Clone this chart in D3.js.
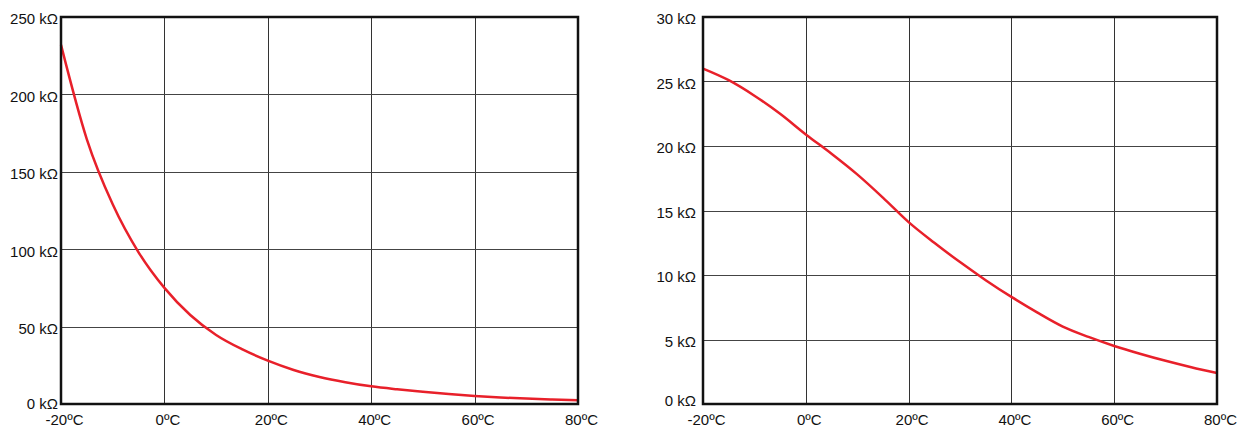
<!DOCTYPE html>
<meta charset="utf-8">
<title>NTC resistance vs temperature</title>
<style>
  body { margin: 0; background: #fff; }
  text { font-family: "Liberation Sans", Arial, sans-serif; font-size: 15px; fill: #111; }
</style>
<body>
<div id="chart"></div>
<script src="https://d3js.org/d3.v7.min.js"></script>
<script>

var temps = [-20, -15, -10, -5, 0, 5, 10, 15, 20, 25, 30, 35, 40, 45, 50, 55, 60, 65, 70, 75, 80];

// left chart: resistance in kΩ
var leftValues = [232, 171, 129, 98, 75, 57.5, 44.6, 35.4, 28, 22, 17.5, 14.1, 11.4, 9.5, 7.9, 6.4, 5.2, 4.2, 3.5, 2.9, 2.4];

// right chart: resistance in kΩ
var rightValues = [26.0, 25.1, 23.9, 22.5, 20.9, 19.4, 17.8, 16.0, 14.1, 12.5, 11.0, 9.6, 8.3, 7.1, 6.0, 5.2, 4.5, 3.9, 3.35, 2.85, 2.4];

// tick labels
var xTicks = [-20, 0, 20, 40, 60, 80];
var leftYTicks = [0, 50, 100, 150, 200, 250];
var rightYTicks = [0, 5, 10, 15, 20, 25, 30];

var svg = d3.select("#chart")
  .append("svg")
    .attr("width", 1248)
    .attr("height", 428);

// one panel per chart
var panels = [
  {values: leftValues, ticks: leftYTicks, max: 250, x0: 61, x1: 578, labelGap: 3, zeroLift: 2.5},
  {values: rightValues, ticks: rightYTicks, max: 30, x0: 703, x1: 1217, labelGap: 7, zeroLift: 5.5}
];

panels.forEach(function(p) {
  var top = 17, bottom = 404;

  var x = d3.scaleLinear()
    .domain([-20, 80])
    .range([p.x0, p.x1]);

  var y = d3.scaleLinear()
    .domain([0, p.max])
    .range([bottom, top]);

  var g = svg.append("g");

  // vertical grid lines
  g.selectAll(".vgrid")
    .data(xTicks.slice(1, -1))
    .enter()
    .append("line")
      .attr("x1", function(d) { return Math.round(x(d)) + 0.5; })
      .attr("x2", function(d) { return Math.round(x(d)) + 0.5; })
      .attr("y1", top)
      .attr("y2", bottom)
      .attr("stroke", "#333")
      .attr("stroke-width", 1);

  // horizontal grid lines
  g.selectAll(".hgrid")
    .data(p.ticks.slice(1, -1))
    .enter()
    .append("line")
      .attr("x1", p.x0)
      .attr("x2", p.x1)
      .attr("y1", function(d) { return Math.round(y(d)) + 0.5; })
      .attr("y2", function(d) { return Math.round(y(d)) + 0.5; })
      .attr("stroke", "#444")
      .attr("stroke-width", 1);

  // the curve
  var line = d3.line()
    .x(function(d, i) { return x(temps[i]); })
    .y(function(d) { return y(d); })
    .curve(d3.curveMonotoneX);

  g.append("path")
    .attr("d", line(p.values))
    .attr("fill", "none")
    .attr("stroke", "#e8202a")
    .attr("stroke-width", 2.5);

  // frame
  g.append("rect")
    .attr("x", p.x0)
    .attr("y", top)
    .attr("width", p.x1 - p.x0)
    .attr("height", bottom - top)
    .attr("fill", "none")
    .attr("stroke", "#111")
    .attr("stroke-width", 2.5);

  // y labels
  g.selectAll(".ylab")
    .data(p.ticks)
    .enter()
    .append("text")
      .attr("x", p.x0 - p.labelGap)
      .attr("y", function(d) { return y(d) + 7.3 - (d === 0 ? p.zeroLift : 0); })
      .attr("text-anchor", "end")
      .text(function(d) { return d + " kΩ"; });

  // x labels
  g.selectAll(".xlab")
    .data(xTicks)
    .enter()
    .append("text")
      .attr("x", function(d) { return x(d) + 3.5; })
      .attr("y", 424.5)
      .attr("text-anchor", "middle")
      .text(function(d) { return d + "ºC"; });
});

</script>
</body>
